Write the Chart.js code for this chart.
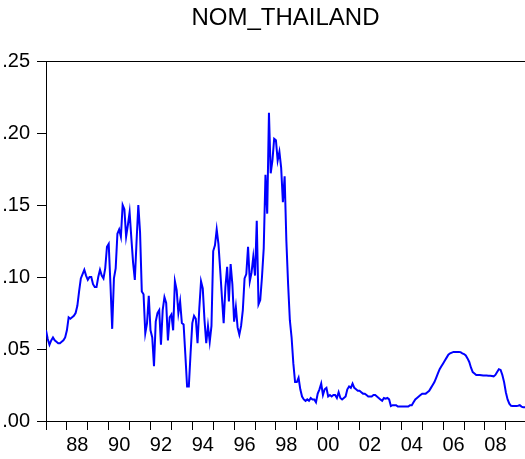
<!DOCTYPE html>
<html>
<head>
<meta charset="utf-8">
<script src="https://cdn.jsdelivr.net/npm/chart.js@4/dist/chart.umd.min.js"></script>
<style>
  html, body { margin: 0; padding: 0; background: #fff; overflow: hidden; }
  #wrap { position: relative; width: 525px; height: 459px; }
</style>
</head>
<body>
<div id="wrap"><canvas id="c"></canvas></div>
<script>
// Monthly series, 1987M01 - 2009M12
const startYear = 1987;
const nomThailand = [
  // 1987
  .063, .057, .053, .056, .058, .056, .055, .054, .054, .055, .056, .058,
  // 1988
  .063, .072, .071, .072, .073, .075, .080, .090, .099, .102, .105, .101,
  // 1989
  .098, .100, .100, .095, .093, .093, .100, .105, .101, .099, .106, .121,
  // 1990
  .123, .095, .064, .099, .106, .130, .133, .128, .150, .147, .128, .136,
  // 1991
  .145, .127, .110, .098, .125, .150, .131, .090, .088, .061, .068, .087,
  // 1992
  .063, .058, .038, .069, .075, .077, .053, .077, .086, .082, .056, .072,
  // 1993
  .074, .063, .097, .091, .075, .083, .068, .067, .046, .024, .024, .047,
  // 1994
  .068, .073, .071, .054, .078, .097, .092, .070, .054, .066, .055, .066,
  // 1995
  .118, .122, .133, .123, .105, .086, .068, .093, .107, .083, .109, .095,
  // 1996
  .069, .079, .065, .060, .066, .077, .099, .102, .121, .097, .103, .114,
  // 1997
  .101, .139, .081, .084, .100, .120, .171, .144, .214, .172, .181, .196,
  // 1998
  .195, .181, .187, .176, .152, .170, .125, .095, .070, .058, .040, .027,
  // 1999
  .027, .030, .022, .017, .015, .014, .015, .014, .016, .015, .015, .013,
  // 2000
  .019, .022, .026, .018, .022, .023, .017, .018, .017, .018, .018, .016,
  // 2001
  .020, .016, .015, .016, .017, .022, .024, .023, .026, .023, .022, .021,
  // 2002
  .021, .020, .019, .019, .018, .017, .017, .017, .018, .018, .017, .016,
  // 2003
  .015, .014, .016, .0155, .016, .015, .0104, .011, .011, .011, .010, .010,
  // 2004
  .010, .010, .010, .010, .010, .011, .011, .013, .015, .016, .017, .018,
  // 2005
  .019, .019, .019, .020, .021, .023, .025, .027, .030, .033, .036, .038,
  // 2006
  .040, .042, .044, .046, .047, .0475, .048, .048, .048, .048, .0478, .047,
  // 2007
  .0465, .0455, .0435, .041, .037, .034, .033, .032, .032, .032, .0318, .0316,
  // 2008
  .0316, .0316, .0315, .0314, .0312, .031, .032, .034, .036, .0355, .032, .027,
  // 2009
  .020, .015, .012, .0105, .0104, .0104, .0104, .0106, .011, .010, .0095, .0095
];

// Axis tick values and labels
const yTicks = [0, 0.05, 0.10, 0.15, 0.20, 0.25];
const yearLabels = ['88', '90', '92', '94', '96', '98', '00', '02', '04', '06', '08'];
const seriesTitle = 'NOM_THAILAND';

const FONT = "'Liberation Sans', Arial, Helvetica, sans-serif";

const points = nomThailand.map((v, i) => ({ x: i, y: v }));

// Title centred over the plot area, plus the top frame line
const framePlugin = {
  id: 'frame',
  afterDraw(chart) {
    const { ctx, chartArea } = chart;
    ctx.save();
    ctx.strokeStyle = '#000';
    ctx.lineWidth = 1;
    ctx.beginPath();
    ctx.moveTo(chartArea.left, chartArea.top + 0.5);
    ctx.lineTo(chart.width, chartArea.top + 0.5);
    ctx.stroke();
    ctx.fillStyle = '#000';
    ctx.font = '24px ' + FONT;
    ctx.textAlign = 'center';
    ctx.textBaseline = 'middle';
    ctx.fillText(seriesTitle, (chartArea.left + chartArea.right) / 2, 18);
    ctx.restore();
  }
};

new Chart(document.getElementById('c'), {
  type: 'line',
  data: {
    datasets: [{
      data: points,
      borderColor: '#0000FF',
      borderWidth: 2,
      pointRadius: 0,
      tension: 0,
      fill: false
    }]
  },
  options: {
    responsive: true,
    maintainAspectRatio: false,
    animation: false,
    devicePixelRatio: 1,
    layout: { padding: { top: 61, left: 0, right: 0, bottom: 0 } },
    plugins: { legend: { display: false }, tooltip: { enabled: false }, title: { display: false } },
    scales: {
      x: {
        type: 'linear',
        min: 0,
        max: nomThailand.length - 1,
        afterBuildTicks(scale) {
          const t = [];
          for (let m = 0; m < nomThailand.length; m += 6) t.push({ value: m });
          scale.ticks = t;
        },
        afterFit(scale) { scale.height = 38; },
        ticks: {
          autoSkip: false,
          maxRotation: 0,
          minRotation: 0,
          padding: 3,
          color: '#000',
          font: { family: FONT, size: 20 },
          callback(v) {
            if (v % 12 !== 6) return '';
            const yr = startYear + (v - 6) / 12;
            const lab = String(yr).slice(2);
            return yearLabels.includes(lab) ? lab : '';
          }
        },
        grid: {
          drawOnChartArea: false,
          tickLength: 9,
          lineWidth: 1,
          color: c => (c.tick && c.tick.value % 12 === 0) ? '#000' : 'rgba(0,0,0,0)'
        },
        border: { display: true, color: '#000', width: 1 }
      },
      y: {
        min: 0,
        max: 0.25,
        afterBuildTicks(scale) { scale.ticks = yTicks.map(v => ({ value: v })); },
        afterFit(scale) { scale.width = 46; },
        ticks: {
          padding: 7,
          color: '#000',
          font: { family: FONT, size: 20 },
          callback: v => v.toFixed(2).replace(/^0/, '')
        },
        grid: { drawOnChartArea: false, tickLength: 9, lineWidth: 1, color: '#000' },
        border: { display: true, color: '#000', width: 1 }
      }
    }
  },
  plugins: [framePlugin]
});
</script>
</body>
</html>
